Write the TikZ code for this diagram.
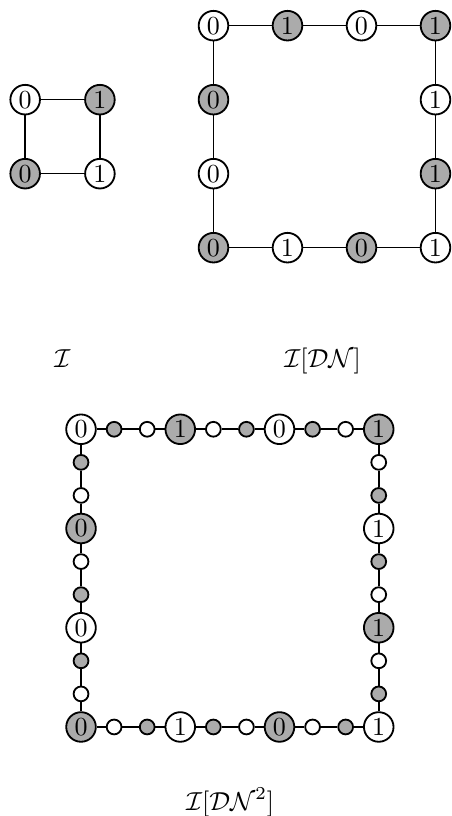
\documentclass[tikz,border=0pt]{standalone}
\usepackage{amssymb}
\usepackage{amsmath}
\usepackage{tikz}
\usetikzlibrary{calc}

\begin{document}
\begin{tikzpicture}[
	wnode/.style={circle,draw,line width=0.7pt,fill=white,minimum size=0.4cm,inner sep=0pt},
	gnode/.style={wnode,fill=gray!66},
	wdot/.style={circle,draw,line width=0.7pt,fill=white,minimum size=0.2cm,inner sep=0pt},
	gdot/.style={wdot,fill=gray!66},
	edge/.style={line width=0.6pt}]
	\useasboundingbox (0,0) rectangle (6.095,11.027);
	
	%I
	\node[wnode] (i01) at (0.34,9.68) {0};
	\node[gnode] (i11) at (1.35,9.68) {1};
	\node[gnode] (i00) at (0.34,8.68) {0};
	\node[wnode] (i10) at (1.35,8.68) {1};
	\draw[edge] (i01)--(i11)--(i10)--(i00)--(i01);
	
	%I[DN]
	\begin{scope}[shift={(2.885,7.68)}]
	\node[wnode] (a03) at (0,3) {0};
	\node[gnode] (a13) at (1,3) {1};
	\node[wnode] (a23) at (2,3) {0};
	\node[gnode] (a33) at (3,3) {1};
	\node[gnode] (a02) at (0,2) {0};
	\node[wnode] (a32) at (3,2) {1};
	\node[wnode] (a01) at (0,1) {0};
	\node[gnode] (a31) at (3,1) {1};
	\node[gnode] (a00) at (0,0) {0};
	\node[wnode] (a10) at (1,0) {1};
	\node[gnode] (a20) at (2,0) {0};
	\node[wnode] (a30) at (3,0) {1};
	\end{scope}
	\draw[edge] (a03)--(a13)--(a23)--(a33)--(a32)--(a31)--(a30)--(a20)--(a10)--(a00)--(a01)--(a02)--(a03);
	
	%I[DN^2]
	\begin{scope}[shift={(1.095,1.203)},x=0.447cm,y=0.447cm]
	%big circles
	\foreach \x/\y/\s/\t in {0/9/wnode/0, 3/9/gnode/1, 6/9/wnode/0, 9/9/gnode/1,
		0/6/gnode/0, 0/3/wnode/0, 9/6/wnode/1, 9/3/gnode/1,
		0/0/gnode/0, 3/0/wnode/1, 6/0/gnode/0, 9/0/wnode/1}
		\node[\s] (b\x\y) at (\x,\y) {\t};
	%small circles
	\foreach \x/\y/\s in {1/9/gdot, 2/9/wdot, 4/9/wdot, 5/9/gdot, 7/9/gdot, 8/9/wdot,
		1/0/wdot, 2/0/gdot, 4/0/gdot, 5/0/wdot, 7/0/wdot, 8/0/gdot,
		0/8/gdot, 0/7/wdot, 0/5/wdot, 0/4/gdot, 0/2/gdot, 0/1/wdot,
		9/8/wdot, 9/7/gdot, 9/5/gdot, 9/4/wdot, 9/2/wdot, 9/1/gdot}
		\node[\s] (b\x\y) at (\x,\y) {};
	\end{scope}
	%lines
	\foreach \i [count=\j] in {0,...,8}{
		\draw[edge] (b\i9)--(b\j9);
		\draw[edge] (b\i0)--(b\j0);
		\draw[edge] (b0\i)--(b0\j);
		\draw[edge] (b9\i)--(b9\j);
	}
	
	%labels
	\node[anchor=base] (lab1) at (0.845,6.06) {$\mathcal{I}$};
	\node[anchor=base] (lab2) at (4.36,6.06) {$\mathcal{I}[\mathcal{DN}]$};
	\node[anchor=base] (lab3) at (3.11,0.07) {$\mathcal{I}[\mathcal{DN}^2]$};
	
	%\draw[help lines] (0,0) grid (6,11);
\end{tikzpicture}
\end{document}
